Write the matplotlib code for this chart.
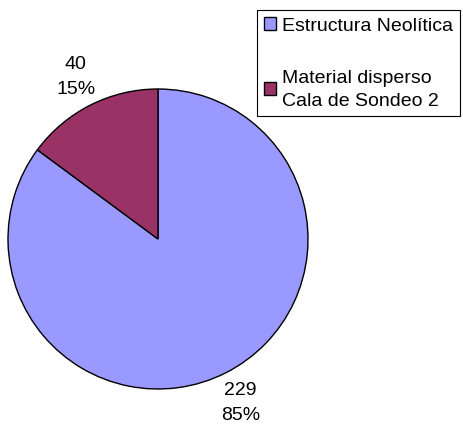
import matplotlib.pyplot as plt

labels = ['Estructura Neolítica', 'Material disperso\nCala de Sondeo 2']
values = [229, 40]
colors = ['#9999FF', '#993366']

plt.rcParams['font.family'] = ['Liberation Sans', 'DejaVu Sans']

fig = plt.figure(figsize=(4.63, 4.27), dpi=100)
ax = fig.add_axes([8 / 463, 37 / 427, 300 / 463, 300 / 427])

total = sum(values)
texts = ['%d\n%d%%' % (v, round(v * 100 / total)) for v in values]

wedges, lbls = ax.pie(values, colors=colors, labels=texts, startangle=90,
                      counterclock=False, labeldistance=1.22,
                      wedgeprops={'edgecolor': 'black', 'linewidth': 1},
                      textprops={'fontsize': 14, 'linespacing': 1.6})
for t in lbls:
    t.set_ha('center')
    t.set_va('center')
ax.set_xlim(-1, 1)
ax.set_ylim(-1, 1)
ax.set_aspect('equal')

leg = fig.legend(wedges, labels, loc='upper left',
                 bbox_to_anchor=(257 / 463, 1 - 11 / 427),
                 fontsize=14, frameon=True, fancybox=False,
                 edgecolor='black', framealpha=1, borderpad=0.35,
                 labelspacing=1.8, handlelength=0.65, handleheight=0.65,
                 handletextpad=0.3, borderaxespad=0)
for t in leg.get_texts():
    t.set_linespacing(1.45)
leg.get_frame().set_linewidth(0.8)

fig.savefig('out.png', dpi=100)
